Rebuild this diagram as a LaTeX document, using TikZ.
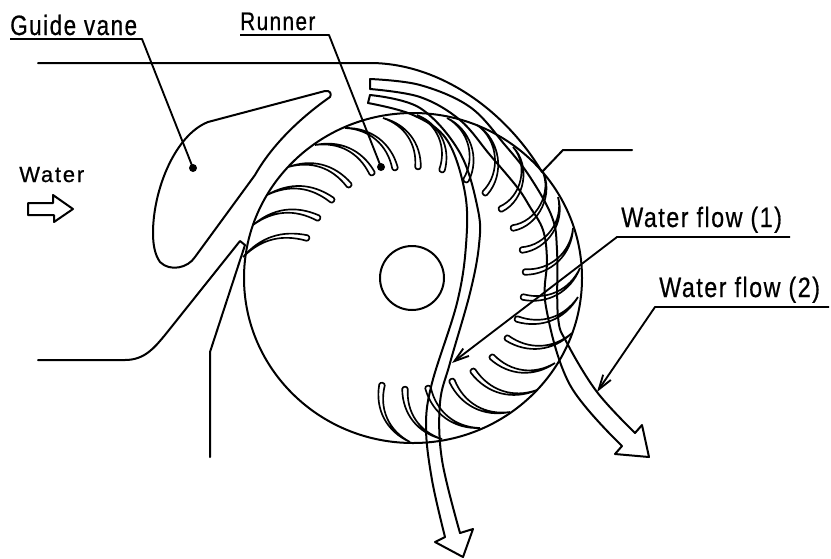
\documentclass[tikz,border=0pt]{standalone}
\usepackage{fontspec}
\setmainfont{Liberation Sans}
\usetikzlibrary{calc,arrows.meta}
\newcommand{\lblfont}[2]{\fontsize{#1}{24}\addfontfeature{FakeStretch=#2,FakeBold=0.6,LetterSpace=5.5}\selectfont}
\tikzset{
  ln/.style={line width=1.5pt,line cap=round,line join=round},
  bl/.style={line width=1.25pt,line join=round},
  lead/.style={line width=1.4pt,line join=round},
  lbl/.style={inner sep=0pt,anchor=base west},
  barb/.style={-{Straight Barb[length=11pt,width=7pt]}}
}
\begin{document}
\begin{tikzpicture}[x=0.75pt,y=-0.75pt]
\useasboundingbox (0,0) rectangle (831,558);
% blades
\foreach \rx/\ry/\tx/\ty/\b in {
 243/257/307/238/30, 253/225/318/218/32, 267/195/332/200/32, 288/167/349/185/34,
 315/145/372/173/36, 345/128/395/168/38, 383/118/418/167/38, 417/115/442/170/42,
 447/118/466/180/46, 477/125/485/193/50, 513/147/501/209/54, 542/170/513/228/54,
 558/197/522/250/50, 573/228/525/272/44, 580/268/523/297/40, 578/297/517/319/38,
 572/333/507/338/38, 555/363/492/357/38, 537/390/473/371/38, 510/412/452/381/38,
 480/428/428/388/38, 442/439/405/389/38, 410/442/382/385/38}
{
 \pgfmathsetmacro{\aa}{-90-\b}
 \pgfmathsetmacro{\ab}{90-\b}
 \draw[bl] (\rx,\ry) to[bend left=\b] ($(\tx,\ty)!2.1pt!\aa:(\rx,\ry)$)
   to[bend left=90,looseness=1.4] ($(\tx,\ty)!2.1pt!\ab:(\rx,\ry)$)
   to[bend right=\b] (\rx,\ry);
}
% runner
\draw[ln] (413,278) ellipse [x radius=169,y radius=165];
\node[circle,draw,line width=1.5pt,minimum size=48pt,inner sep=0pt] (hub) at (412,278) {};
% casing
\coordinate (ct) at (38,63);
\coordinate (cc) at (542,172);
\draw[ln] (ct) -- (372,63) .. controls (440,64) and (505,110) .. (cc) -- (563,150) -- (632,150);
\coordinate (cb) at (38,360);
\draw[ln] (cb) -- (125,360) .. controls (145,360) and (155,347) .. (165,335)
  -- (240,241) -- (245,245) -- (210,352) -- (210,457);
% guide vane
\draw[ln] (325,91) .. controls (330,90) and (332,94) .. (330,97)
  .. controls (300,118) and (272,145) .. (255,175) -- (195,257)
  .. controls (188,268) and (170,272) .. (160,262)
  .. controls (155,255) and (153,245) .. (153,233)
  .. controls (153,190) and (175,135) .. (208,122) -- cycle;
% flow 1
\draw[ln] plot[smooth,tension=.6] coordinates {(370,95) (420,108) (460,153) (478,210) (479,245) (470,293) (450,363) (440,403) (442,460) (460,533)}
  -- (473,529) -- (463,557) -- (435,542) -- (445,537);
\draw[ln] plot[smooth,tension=.6] coordinates {(445,537) (432,480) (426,427) (432,383) (457,303) (466,245) (465,193) (447,140) (413,115) (368,103)} -- (370,95);
% flow 2
\draw[ln] plot[smooth,tension=.6] coordinates {(370,79) (420,85) (470,107) (505,145) (530,177) (552,217) (557,250) (558,317) (567,343) (597,392) (635,433)}
  -- (642,425) -- (649,457) -- (615,454) -- (622,446);
\draw[ln] plot[smooth,tension=.6] coordinates {(622,446) (570,385) (546,307) (547,260) (543,230) (530,207) (517,187) (490,155) (460,120) (420,97) (370,89)} -- (370,79);
% water arrow
\draw[ln] (28,203) -- (53,203) -- (53,195) -- (73,209) -- (54,222) -- (54,215) -- (28,215) -- cycle;
% labels
\node[lbl,font=\lblfont{21}{0.8}] (gv) at (10,35) {Guide vane};
\node[lbl,font=\lblfont{19}{0.82}] (rn) at (240,30) {Runner};
\node[lbl,font=\fontsize{16.5}{18}\addfontfeature{LetterSpace=8,FakeBold=0.7}\selectfont] (wt) at (19,182) {Water};
\node[lbl,font=\lblfont{21}{0.83}] (f1) at (621,227) {Water flow (1)};
\node[lbl,font=\lblfont{21}{0.83}] (f2) at (659,297) {Water flow (2)};
% leaders
\coordinate (gvd) at (193,168);
\coordinate (rnd) at (381,167);
\coordinate (f1t) at (452,363);
\coordinate (f2t) at (597,392);
\fill (gvd) circle (3pt);
\fill (rnd) circle (3pt);
\draw[lead] (10,39) -- (142,39) -- (gvd);
\draw[lead] (240,35) -- (329,35) -- (rnd);
\draw[lead,barb] (790,237) -- (617,237) -- (f1t);
\draw[lead,barb] (829,307) -- (655,307) -- (f2t);
\end{tikzpicture}
\end{document}
